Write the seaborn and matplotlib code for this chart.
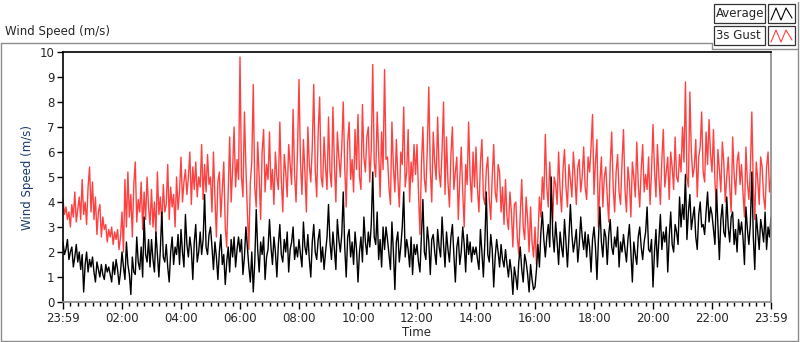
import matplotlib
matplotlib.use("Agg")
import matplotlib.pyplot as plt
from matplotlib.lines import Line2D
from matplotlib.patches import Rectangle
import pandas as pd
import seaborn as sns

# ---- data: 20 readings per hour (3-min steps), 00:00 .. 24:00 ----
gust = [
    4.1, 3.5, 3.8, 3.3, 3.6, 3.0, 3.9, 3.4, 4.4, 3.2, 3.7, 4.2, 3.3, 4.9, 3.5, 4.0, 3.1, 4.6, 5.4, 3.6,
    4.8, 3.3, 4.2, 2.7, 3.6, 3.9, 2.6, 3.4, 2.9, 3.1, 2.4, 2.9, 2.6, 3.0, 2.3, 2.8, 2.5, 2.9, 2.1, 2.6,
    3.6, 2.0, 4.9, 3.0, 5.2, 3.4, 4.3, 2.6, 4.7, 5.6, 3.2, 4.1, 3.6, 4.8, 2.9, 4.4, 3.3, 5.0, 3.8, 3.1,
    4.5, 3.0, 4.0, 2.7, 5.2, 3.5, 4.2, 3.1, 4.7, 3.6, 3.9, 5.5, 3.3, 4.6, 3.8, 4.3, 3.0, 5.0, 3.7, 4.4,
    5.8, 4.0, 4.8, 5.3, 4.3, 5.0, 6.0, 3.9, 5.4, 4.5, 5.6, 4.2, 5.0, 4.6, 6.3, 4.1, 5.5, 4.4, 5.9, 4.7,
    5.0, 3.6, 6.0, 4.2, 2.6, 4.8, 5.2, 3.4, 4.5, 5.6, 3.0, 2.2, 4.4, 6.6, 4.0, 5.3, 7.0, 4.6, 5.7, 4.9,
    9.8, 5.0, 4.2, 7.6, 5.4, 3.6, 2.1, 4.8, 5.6, 8.7, 4.6, 3.8, 6.4, 5.0, 3.3, 6.0, 6.9, 4.4, 5.5, 4.9,
    6.8, 4.5, 5.3, 3.9, 6.0, 5.0, 4.5, 7.2, 4.9, 3.6, 5.9, 5.2, 4.2, 6.3, 5.5, 4.7, 7.7, 5.1, 4.0, 6.1,
    8.9, 5.6, 4.3, 6.5, 5.2, 3.6, 7.0, 5.5, 4.8, 6.2, 8.7, 5.3, 4.2, 6.8, 8.2, 5.0, 4.6, 6.6, 5.4, 4.5,
    7.4, 5.2, 4.6, 7.8, 5.5, 4.0, 6.8, 5.8, 5.0, 6.2, 8.0, 5.4, 3.8, 6.4, 7.2, 4.9, 5.7, 4.4, 6.9, 5.3,
    7.5, 5.0, 4.5, 7.9, 5.8, 5.2, 6.6, 7.0, 4.8, 6.1, 9.5, 5.6, 5.0, 7.6, 6.0, 4.2, 6.8, 5.3, 9.3, 5.7,
    5.8, 4.6, 3.9, 7.2, 5.4, 4.4, 6.5, 5.0, 3.8, 6.0, 5.5, 7.8, 4.6, 5.2, 6.9, 4.0, 5.6, 4.8, 6.3, 5.1,
    6.3, 4.4, 2.7, 5.5, 7.0, 4.9, 4.4, 6.2, 8.6, 5.3, 4.0, 6.8, 5.6, 4.9, 7.4, 5.2, 4.6, 6.1, 8.0, 4.3,
    6.6, 4.8, 3.8, 5.9, 7.0, 4.5, 5.2, 5.8, 3.3, 4.9, 6.2, 4.4, 3.0, 5.5, 4.7, 7.2, 5.0, 4.0, 6.0, 4.6,
    6.2, 4.5, 3.6, 5.6, 6.5, 4.2, 3.9, 5.3, 5.8, 4.1, 3.3, 5.0, 6.3, 4.4, 4.0, 5.5, 5.2, 3.6, 4.6, 3.1,
    4.9, 3.4, 2.9, 4.4, 3.6, 2.2, 3.9, 4.0, 2.6, 1.9, 3.5, 4.9, 3.0, 2.5, 4.2, 3.3, 2.0, 3.8, 2.4, 1.8,
    3.0, 1.5, 2.6, 4.2, 3.4, 5.0, 4.1, 6.7, 4.6, 3.8, 5.6, 4.4, 3.2, 5.0, 4.7, 3.9, 6.0, 4.5, 3.6, 5.3,
    6.1, 4.6, 3.8, 5.5, 4.9, 4.2, 6.0, 5.1, 3.9, 5.4, 5.7, 4.4, 5.0, 6.2, 4.6, 4.1, 5.8, 5.2, 6.2, 7.5,
    4.3, 5.6, 6.5, 3.0, 4.8, 5.8, 3.8, 5.0, 5.4, 4.2, 3.2, 5.5, 6.8, 4.6, 3.6, 5.2, 5.9, 4.4, 3.9, 5.6,
    6.9, 4.5, 3.6, 5.4, 4.8, 3.4, 5.6, 5.0, 4.2, 6.4, 4.7, 3.8, 5.3, 6.3, 4.4, 5.1, 4.5, 5.8, 3.9, 5.2,
    7.1, 5.3, 4.2, 6.3, 5.0, 3.9, 5.7, 6.9, 4.6, 5.2, 5.8, 4.1, 6.0, 5.4, 4.5, 6.6, 5.0, 4.8, 5.9, 5.2,
    7.0, 5.6, 8.8, 5.0, 4.6, 8.4, 6.0, 5.0, 5.4, 6.5, 4.2, 5.8, 6.2, 7.6, 5.2, 4.8, 6.8, 5.5, 7.3, 5.9,
    5.2, 6.9, 4.8, 3.8, 6.1, 5.3, 4.4, 6.4, 5.6, 4.0, 5.0, 5.8, 4.6, 3.6, 6.6, 5.1, 4.3, 5.6, 6.0, 4.7,
    5.5, 4.4, 3.4, 6.2, 4.8, 4.1, 5.3, 7.6, 4.6, 3.3, 5.6, 4.9, 3.9, 5.8, 5.4, 4.2, 3.7, 5.4, 6.0, 4.4,
    5.0,
]
average = [
    2.4, 1.9, 2.1, 2.5, 1.7, 2.0, 2.2, 1.4, 1.8, 2.3, 1.6, 2.0, 1.3, 1.9, 0.4, 1.5, 2.0, 1.2, 1.7, 1.4,
    1.8, 1.2, 0.8, 1.6, 1.3, 1.0, 1.5, 1.1, 0.9, 1.5, 1.2, 1.4, 1.1, 0.8, 1.6, 1.1, 1.7, 1.3, 0.7, 1.2,
    2.0, 1.4, 0.9, 2.4, 1.5, 1.1, 0.3, 1.8, 1.2, 1.1, 2.6, 1.6, 1.3, 2.2, 1.0, 3.4, 1.9, 1.6, 2.5, 1.4,
    2.5, 1.7, 1.2, 2.8, 1.9, 1.0, 2.1, 3.6, 1.8, 1.6, 2.3, 1.4, 0.8, 2.0, 2.6, 1.5, 2.2, 1.9, 2.7, 1.5,
    2.9, 2.0, 1.4, 3.5, 2.3, 1.8, 2.6, 2.1, 0.9, 2.4, 3.1, 1.6, 2.0, 2.8, 1.9, 2.5, 4.3, 2.2, 1.9, 2.7,
    3.0, 2.2, 1.3, 2.4, 1.8, 0.9, 2.0, 2.7, 1.5, 1.9, 0.7, 1.6, 2.2, 1.2, 2.5, 1.8, 2.6, 1.4, 2.1, 2.6,
    2.0, 2.5, 1.1, 1.8, 3.0, 2.2, 1.4, 0.8, 2.0, 0.4, 1.6, 3.7, 2.1, 1.2, 2.4, 1.9, 2.6, 0.9, 1.8, 2.1,
    3.3, 2.2, 1.5, 2.6, 2.0, 1.0, 2.3, 3.1, 1.9, 1.6, 2.5, 2.0, 2.8, 1.2, 2.1, 2.4, 3.0, 1.7, 2.2, 1.8,
    2.5, 1.9, 1.4, 3.2, 2.2, 1.9, 2.7, 1.7, 1.0, 2.4, 3.1, 2.0, 1.7, 2.5, 2.9, 1.6, 2.2, 1.3, 2.0, 2.6,
    3.9, 2.4, 1.7, 2.8, 2.1, 1.3, 3.3, 2.5, 2.0, 2.7, 4.4, 2.2, 1.0, 2.6, 2.9, 1.8, 2.4, 1.5, 2.8, 2.1,
    0.8, 2.0, 2.6, 1.6, 3.4, 2.4, 1.9, 2.8, 2.2, 3.1, 5.2, 2.6, 2.3, 3.6, 1.7, 2.5, 1.4, 3.0, 2.1, 3.0,
    2.5, 1.9, 1.3, 3.2, 2.0, 0.5, 2.4, 2.8, 1.6, 2.2, 3.0, 4.4, 1.8, 2.5, 2.1, 1.4, 2.6, 1.1, 2.3, 1.9,
    2.3, 1.6, 1.2, 2.7, 4.1, 2.0, 1.7, 3.0, 2.4, 1.1, 2.5, 2.7, 2.0, 1.5, 2.9, 2.2, 1.8, 3.4, 2.3, 1.4,
    2.8, 2.1, 1.6, 2.6, 3.1, 1.9, 0.8, 2.2, 2.6, 1.5, 2.0, 3.0, 2.3, 1.2, 2.7, 1.9, 2.4, 1.6, 2.2, 1.9,
    2.2, 1.7, 1.3, 2.9, 2.0, 1.0, 2.4, 4.4, 1.9, 1.6, 2.7, 2.1, 0.6, 1.8, 2.5, 2.0, 1.4, 2.3, 1.7, 1.4,
    2.1, 1.5, 1.0, 1.7, 1.2, 0.3, 1.4, 1.0, 0.5, 1.6, 2.2, 1.3, 0.8, 1.9, 1.6, 1.1, 0.4, 1.5, 0.9, 0.5,
    0.6, 1.3, 2.3, 1.4, 2.8, 3.6, 2.5, 1.8, 2.6, 3.1, 2.2, 5.0, 2.7, 2.0, 3.2, 2.4, 1.5, 2.8, 2.2, 1.8,
    3.3, 2.4, 1.4, 2.6, 3.9, 2.7, 2.0, 2.4, 2.9, 1.6, 2.3, 3.4, 2.6, 2.1, 2.8, 1.8, 2.7, 2.2, 1.2, 2.5,
    3.0, 2.2, 0.9, 2.5, 3.8, 2.4, 1.8, 2.9, 2.6, 1.5, 2.7, 3.3, 2.2, 1.9, 2.6, 2.2, 3.0, 1.4, 2.4, 2.0,
    2.7, 2.1, 1.6, 2.5, 3.1, 2.0, 0.8, 2.4, 1.9, 1.5, 2.6, 3.0, 2.2, 1.7, 2.4, 2.8, 3.8, 2.1, 2.0, 2.5,
    0.6, 2.0, 2.9, 1.4, 2.5, 3.5, 2.1, 2.8, 2.4, 3.0, 1.2, 2.6, 3.6, 2.3, 2.0, 3.1, 2.8, 2.3, 4.2, 3.0,
    3.9, 3.3, 5.1, 2.5, 3.6, 4.3, 2.9, 3.4, 3.8, 2.6, 2.1, 3.5, 4.0, 3.0, 3.1, 2.7, 3.6, 4.4, 3.2, 3.8,
    3.5, 2.9, 2.3, 4.5, 3.1, 1.7, 3.3, 3.9, 2.8, 2.6, 4.2, 3.0, 2.4, 3.4, 3.6, 2.3, 2.9, 2.0, 3.3, 2.7,
    3.2, 2.6, 1.5, 3.8, 2.9, 2.3, 3.1, 5.2, 2.6, 1.3, 3.5, 2.8, 2.1, 3.3, 2.9, 2.4, 3.6, 2.1, 3.0, 2.6,
    3.4,
]
samples_per_hour = 20
tick_hours = [0, 2, 4, 6, 8, 10, 12, 14, 16, 18, 20, 22, 24]
tick_labels = ["23:59", "02:00", "04:00", "06:00", "08:00", "10:00", "12:00",
               "14:00", "16:00", "18:00", "20:00", "22:00", "23:59"]
y_ticks = list(range(0, 11))
series_names = ["Average", "3s Gust"]
series_colors = ["#000000", "#FF4040"]

df_avg = pd.DataFrame({"hour": [i / samples_per_hour for i in range(len(average))],
                       "speed": average})
df_gust = pd.DataFrame({"hour": [i / samples_per_hour for i in range(len(gust))],
                        "speed": gust})

sns.set_style("white")
plt.rcParams["font.family"] = ["DejaVu Sans"]

W, H = 800, 342
fig = plt.figure(figsize=(W / 100, H / 100), dpi=100)
fig.patch.set_facecolor("white")

def fx(px):
    return px / W

def fy(py):
    return 1 - py / H

ax = fig.add_axes([fx(63), fy(302), fx(771) - fx(63), fy(52) - fy(302)])

# gust first (behind), then average on top
sns.lineplot(data=df_gust, x="hour", y="speed", color=series_colors[1], lw=1.0,
             ax=ax, estimator=None, sort=False, legend=False)
sns.lineplot(data=df_avg, x="hour", y="speed", color=series_colors[0], lw=1.0,
             ax=ax, estimator=None, sort=False, legend=False)

ax.set_xlim(0, 24)
ax.set_ylim(0, 10)
ax.set_xticks(tick_hours)
ax.set_xticklabels(tick_labels)
ax.set_xticks([i * 0.25 for i in range(97)], minor=True)
ax.set_yticks(y_ticks)
ax.set_yticklabels([str(v) for v in y_ticks])
ax.tick_params(axis="x", which="major", direction="out", length=5, width=1,
               color="#000000", labelsize=8.5, pad=2, bottom=True)
ax.tick_params(axis="x", which="minor", direction="out", length=3, width=1,
               color="#000000", bottom=True)
ax.tick_params(axis="y", which="major", direction="out", length=4, width=1,
               color="#000000", labelsize=8.5, pad=2, left=True)
ax.set_xlabel("Time", fontsize=8.5, labelpad=1)
ax.set_ylabel("Wind Speed (m/s)", fontsize=8.5, color="#1a3a6e", labelpad=4)
for side, col in [("top", "#000000"), ("left", "#000000"),
                  ("bottom", "#8a8a8a"), ("right", "#8a8a8a")]:
    ax.spines[side].set_visible(True)
    ax.spines[side].set_color(col)
    ax.spines[side].set_linewidth(1.2)
ax.grid(False)

# outer panel frame (LabVIEW style)
frame_col = "#8c8c8c"
fig.add_artist(Line2D([fx(0.5), fx(712)], [fy(42.5), fy(42.5)], color=frame_col, lw=1))
fig.add_artist(Line2D([fx(712), fx(797)], [fy(48.5), fy(48.5)], color=frame_col, lw=1))
fig.add_artist(Line2D([fx(712), fx(712)], [fy(42.5), fy(48.5)], color=frame_col, lw=1))
fig.add_artist(Line2D([fx(0.8), fx(0.8)], [fy(42.5), fy(340.5)], color=frame_col, lw=1))
fig.add_artist(Line2D([fx(0.5), fx(797.5)], [fy(340.5), fy(340.5)], color=frame_col, lw=1))
fig.add_artist(Line2D([fx(797.5), fx(797.5)], [fy(2), fy(340.5)], color=frame_col, lw=1))

fig.text(fx(5), fy(32), "Wind Speed (m/s)", fontsize=8.5, va="center", ha="left")

# legend (manual, LabVIEW plot legend)
for i, (name, col) in enumerate(zip(series_names, series_colors)):
    top = 4 + i * 22
    fig.add_artist(Rectangle((fx(714), fy(top + 19)), fx(765) - fx(714), fy(top) - fy(top + 19),
                             fill=False, ec="#333333", lw=0.9))
    fig.text(fx(716), fy(top + 9.5), name, fontsize=8.5, va="center", ha="left")
    fig.add_artist(Rectangle((fx(768), fy(top + 19)), fx(795) - fx(768), fy(top) - fy(top + 19),
                             fill=False, ec="#333333", lw=0.9))
    zx = [771, 776, 781, 786, 792]
    zy = [top + 16, top + 4, top + 16, top + 4, top + 14]
    fig.add_artist(Line2D([fx(v) for v in zx], [fy(v) for v in zy], color=col, lw=0.8))

fig.savefig("out.png", dpi=100, facecolor="white")
